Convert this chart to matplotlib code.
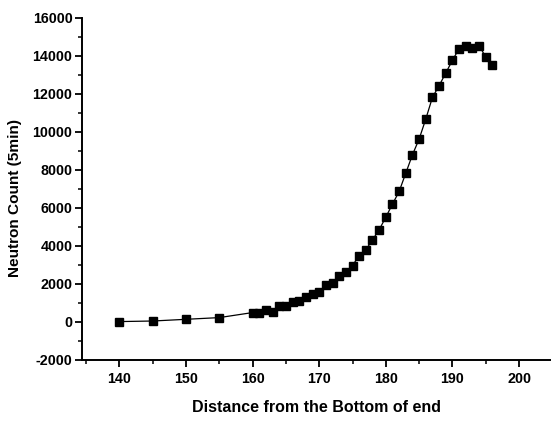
import numpy as np
import matplotlib.pyplot as plt
from matplotlib.ticker import MultipleLocator

# distance from the bottom of end and measured neutron count (5 min)
distance = [140, 145, 150, 155, 160, 161, 162, 163, 164, 165, 166, 167, 168,
            169, 170, 171, 172, 173, 174, 175, 176, 177, 178, 179, 180, 181,
            182, 183, 184, 185, 186, 187, 188, 189, 190, 191, 192, 193, 194,
            195, 196]
counts = [0, 30, 120, 210, 475, 440, 615, 490, 826, 826, 1037, 1108, 1283,
          1459, 1565, 1916, 2057, 2391, 2620, 2953, 3481, 3780, 4307, 4835,
          5503, 6188, 6856, 7823, 8790, 9616, 10671, 11814, 12429, 13097,
          13765, 14380, 14504, 14416, 14539, 13941, 13519]

plt.rcParams['font.family'] = ['Liberation Sans', 'DejaVu Sans']
plt.rcParams['axes.unicode_minus'] = False

fig = plt.figure(figsize=(5.51, 4.26), dpi=100)
ax = fig.add_axes([0.149, 0.156, 0.851, 0.802])

ax.plot(distance, counts, color='black', lw=0.9, marker='s', ms=5.5,
        mfc='black', mec='black')

ax.set_xlim(134.4, 204.8)
ax.set_ylim(-2000, 16000)
ax.xaxis.set_major_locator(MultipleLocator(10))
ax.xaxis.set_minor_locator(MultipleLocator(5))
ax.yaxis.set_major_locator(MultipleLocator(2000))
ax.yaxis.set_minor_locator(MultipleLocator(1000))

ax.spines['top'].set_visible(False)
ax.spines['right'].set_visible(False)
for s in ('left', 'bottom'):
    ax.spines[s].set_linewidth(1.4)

ax.tick_params(which='major', direction='out', length=5, width=1.3,
               labelsize=10.3, pad=2)
ax.tick_params(axis='x', which='major', pad=4)
ax.tick_params(which='minor', direction='out', length=3, width=1.1)
for lbl in ax.get_xticklabels() + ax.get_yticklabels():
    lbl.set_fontweight('bold')

ax.set_xlabel('Distance from the Bottom of end', fontsize=11.5,
              fontweight='bold', labelpad=10)
ax.set_ylabel('Neutron Count (5min)', fontsize=11.1, fontweight='bold')
ax.yaxis.set_label_coords(-0.128, 0.474)

fig.savefig('out.png', dpi=100)
